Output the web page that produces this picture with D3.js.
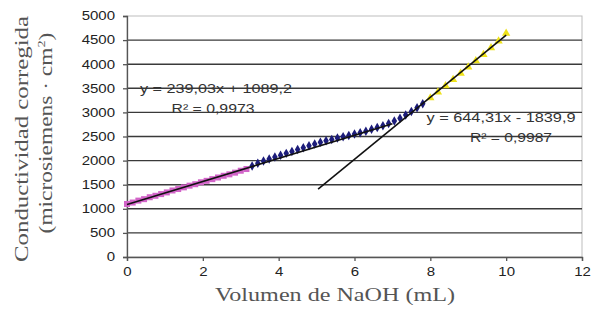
<!DOCTYPE html>
<html>
<head>
<meta charset="utf-8">
<script src="https://cdn.jsdelivr.net/npm/d3@7/dist/d3.min.js"></script>
<style>
  body { margin: 0; background: #fff; }
</style>
</head>
<body>
<svg width="591" height="323" font-family="Liberation Sans, Arial, sans-serif"></svg>
<script>

// pink squares (first section of the titration)
var pinkX = [0,0.15,0.3,0.45,0.6,0.75,0.9,1.05,1.2,1.35,1.5,1.65,1.8,1.95,2.1,2.25,2.4,2.55,2.7,2.85,3.0,3.15];
var pinkY = [1100,1130,1170,1200,1240,1270,1305,1340,1380,1410,1445,1480,1510,1550,1580,1615,1650,1685,1715,1750,1790,1825];

// blue diamonds
var blueX = [3.3,3.45,3.6,3.75,3.9,4.05,4.2,4.35,4.5,4.65,4.8,4.95,5.1,5.25,5.4,5.55,5.7,5.85,6.0,6.15,6.3,6.45,6.6,6.75,6.9,7.05,7.2,7.35,7.5,7.65,7.8];
var blueY = [1890,1945,1990,2035,2075,2110,2150,2190,2230,2265,2310,2345,2380,2410,2440,2470,2495,2520,2550,2580,2610,2650,2685,2725,2770,2820,2880,2945,3020,3095,3180];

// yellow triangles
var yellowX = [8.0,8.2,8.4,8.6,8.8,9.0,9.2,9.4,9.6,9.8,10.0];
var yellowY = [3300,3420,3550,3680,3810,3940,4070,4200,4340,4480,4640];

// trend lines: y = m*x + b, drawn between x0 and x1
var trends = [
  {m: 239.03, b: 1089.2, x0: 0, x1: 7.0},
  {m: 644.31, b: -1839.9, x0: 5.04, x1: 10.0}
];

var xTicks = [0, 2, 4, 6, 8, 10, 12];
var yTicks = [0, 500, 1000, 1500, 2000, 2500, 3000, 3500, 4000, 4500, 5000];

var svg = d3.select("svg");

var x = d3.scaleLinear().domain([0, 12]).range([127, 582]);
var y = d3.scaleLinear().domain([0, 5000]).range([257, 16]);

// stretch a text horizontally, the reference font is wide
function widen(sel, f) {
  sel.each(function() {
    var w = this.getComputedTextLength();
    d3.select(this).attr("textLength", w * f).attr("lengthAdjust", "spacingAndGlyphs");
  });
}

// plot border (top/right light)
svg.append("rect")
    .attr("x", x(0)).attr("y", y(5000))
    .attr("width", x(12) - x(0)).attr("height", y(0) - y(5000))
    .attr("fill", "none").attr("stroke", "#bdbdbd").attr("stroke-width", 1);

// gridlines
svg.append("g").selectAll("line")
    .data(yTicks.filter(function(d) { return d > 0 && d < 5000; }))
  .enter().append("line")
    .attr("x1", x(0)).attr("x2", x(12))
    .attr("y1", function(d) { return y(d); })
    .attr("y2", function(d) { return y(d); })
    .attr("stroke", "#3a3a3a").attr("stroke-width", 1.4);

// axes
var yAxis = svg.append("g")
    .attr("transform", "translate(" + x(0) + ",0)")
    .call(d3.axisLeft(y).tickValues(yTicks).tickSize(4).tickPadding(8).tickFormat(d3.format("d")));
var xAxis = svg.append("g")
    .attr("transform", "translate(0," + y(0) + ")")
    .call(d3.axisBottom(x).tickValues(xTicks).tickSize(4).tickPadding(6).tickFormat(d3.format("d")));

[yAxis, xAxis].forEach(function(a) {
  a.select(".domain").attr("stroke", "#555").attr("stroke-width", 1.3);
  a.selectAll(".tick line").attr("stroke", "#555").attr("stroke-width", 1.3);
  a.selectAll(".tick text").attr("fill", "#222")
      .style("font-family", "Liberation Sans, Arial, sans-serif")
      .style("font-size", "12px")
      .call(widen, 1.25);
});

// markers
svg.append("g").selectAll("rect")
    .data(d3.zip(pinkX, pinkY))
  .enter().append("rect")
    .attr("x", function(d) { return x(d[0]) - 3; })
    .attr("y", function(d) { return y(d[1]) - 3; })
    .attr("width", 6).attr("height", 6)
    .attr("fill", "#d263c8");

svg.append("g").selectAll("path")
    .data(d3.zip(blueX, blueY))
  .enter().append("path")
    .attr("transform", function(d) { return "translate(" + x(d[0]) + "," + y(d[1]) + ")"; })
    .attr("d", d3.symbol(d3.symbolDiamond, 26))
    .attr("fill", "#1c1c7a");

svg.append("g").selectAll("path")
    .data(d3.zip(yellowX, yellowY))
  .enter().append("path")
    .attr("transform", function(d) { return "translate(" + x(d[0]) + "," + y(d[1]) + ")"; })
    .attr("d", d3.symbol(d3.symbolTriangle, 30))
    .attr("fill", "#eee21a");

// trend lines
svg.append("g").selectAll("line")
    .data(trends)
  .enter().append("line")
    .attr("x1", function(d) { return x(d.x0); })
    .attr("y1", function(d) { return y(d.m * d.x0 + d.b); })
    .attr("x2", function(d) { return x(d.x1); })
    .attr("y2", function(d) { return y(d.m * d.x1 + d.b); })
    .attr("stroke", "#111").attr("stroke-width", 1.6);

// equation labels
var labels = [
  {t: "y = 239,03x + 1089,2", cx: 216, cy: 93, w: 152},
  {t: "R² = 0,9973", cx: 213, cy: 113, w: 83},
  {t: "y = 644,31x - 1839,9", cx: 501, cy: 122, w: 149},
  {t: "R² = 0,9987", cx: 511, cy: 142, w: 82}
];
svg.append("g").selectAll("text")
    .data(labels)
  .enter().append("text")
    .attr("x", function(d) { return d.cx; })
    .attr("y", function(d) { return d.cy; })
    .attr("text-anchor", "middle")
    .attr("fill", "#333")
    .attr("textLength", function(d) { return d.w; })
    .attr("lengthAdjust", "spacingAndGlyphs")
    .style("font-size", "12.5px")
    .text(function(d) { return d.t; });

// axis titles
var serif = "Liberation Serif, DejaVu Serif, serif";
svg.append("text")
    .attr("transform", "translate(28,139) rotate(-90)")
    .attr("text-anchor", "middle")
    .attr("fill", "#555")
    .attr("textLength", 246).attr("lengthAdjust", "spacingAndGlyphs")
    .style("font-family", serif).style("font-size", "18px")
    .text("Conductividad corregida");
svg.append("text")
    .attr("transform", "translate(52,133) rotate(-90)")
    .attr("text-anchor", "middle")
    .attr("fill", "#555")
    .style("font-family", serif).style("font-size", "18px")
    .html("(microsiemens · cm<tspan dy='-7' font-size='11px'>2</tspan><tspan dy='7'>)</tspan>")
    .call(widen, 1.3);
svg.append("text")
    .attr("x", 335).attr("y", 301)
    .attr("text-anchor", "middle")
    .attr("fill", "#555")
    .attr("textLength", 240).attr("lengthAdjust", "spacingAndGlyphs")
    .style("font-family", serif).style("font-size", "18px")
    .text("Volumen de NaOH (mL)");

</script>
</body>
</html>
